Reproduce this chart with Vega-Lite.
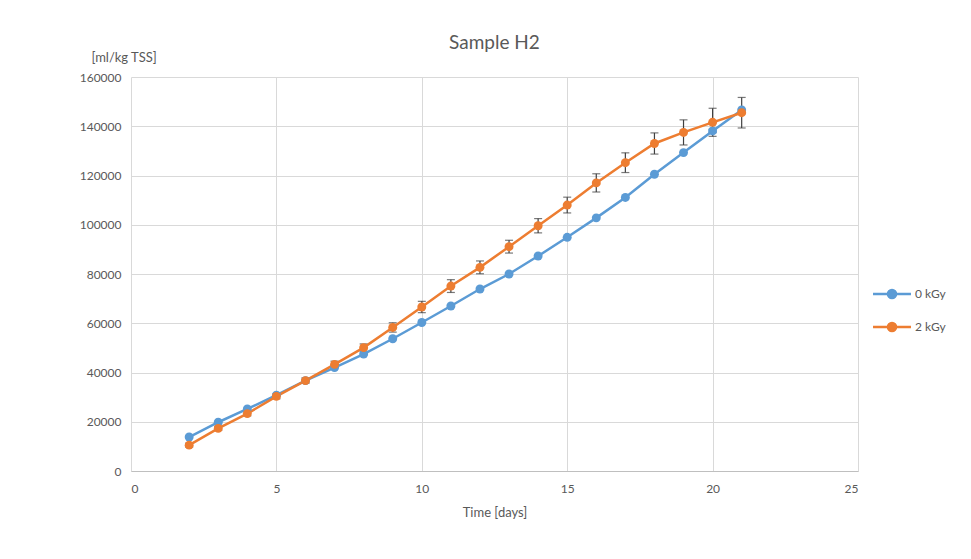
{
  "$schema": "https://vega.github.io/schema/vega-lite/v6.json",
  "width": 727,
  "height": 394,
  "autosize": {"type": "none"},
  "padding": {"left": 131, "top": 77, "right": 113, "bottom": 88},
  "background": "white",
  "config": {
    "font": "Lato",
    "view": {"stroke": null},
    "axis": {"labelFont": "Lato", "titleFont": "Lato", "labelColor": "#595959", "titleColor": "#595959", "labelFontSize": 12, "titleFontSize": 13, "titleFontWeight": "normal", "gridColor": "#D9D9D9", "gridWidth": 1, "ticks": false, "domain": false},
    "legend": {"labelFont": "Lato", "labelColor": "#595959", "labelFontSize": 12}
  },
  "title": {"text": "Sample H2", "fontSize": 19, "font": "Lato", "fontWeight": "normal", "color": "#595959", "anchor": "middle", "offset": -2},
  "data": {
    "values": [
      {"day": 2, "series": "0 kGy", "value": 13800, "err": 0},
      {"day": 3, "series": "0 kGy", "value": 19800, "err": 0},
      {"day": 4, "series": "0 kGy", "value": 25200, "err": 0},
      {"day": 5, "series": "0 kGy", "value": 30800, "err": 0},
      {"day": 6, "series": "0 kGy", "value": 36700, "err": 0},
      {"day": 7, "series": "0 kGy", "value": 42000, "err": 0},
      {"day": 8, "series": "0 kGy", "value": 47500, "err": 0},
      {"day": 9, "series": "0 kGy", "value": 53700, "err": 0},
      {"day": 10, "series": "0 kGy", "value": 60300, "err": 0},
      {"day": 11, "series": "0 kGy", "value": 67000, "err": 0},
      {"day": 12, "series": "0 kGy", "value": 73900, "err": 0},
      {"day": 13, "series": "0 kGy", "value": 80000, "err": 0},
      {"day": 14, "series": "0 kGy", "value": 87300, "err": 0},
      {"day": 15, "series": "0 kGy", "value": 94900, "err": 0},
      {"day": 16, "series": "0 kGy", "value": 102800, "err": 0},
      {"day": 17, "series": "0 kGy", "value": 111100, "err": 0},
      {"day": 18, "series": "0 kGy", "value": 120500, "err": 0},
      {"day": 19, "series": "0 kGy", "value": 129300, "err": 0},
      {"day": 20, "series": "0 kGy", "value": 138100, "err": 700},
      {"day": 21, "series": "0 kGy", "value": 146600, "err": 0},
      {"day": 2, "series": "2 kGy", "value": 10500, "err": 800},
      {"day": 3, "series": "2 kGy", "value": 17300, "err": 800},
      {"day": 4, "series": "2 kGy", "value": 23300, "err": 900},
      {"day": 5, "series": "2 kGy", "value": 30300, "err": 1000},
      {"day": 6, "series": "2 kGy", "value": 36700, "err": 1100},
      {"day": 7, "series": "2 kGy", "value": 43300, "err": 1300},
      {"day": 8, "series": "2 kGy", "value": 50100, "err": 1500},
      {"day": 9, "series": "2 kGy", "value": 58300, "err": 1900},
      {"day": 10, "series": "2 kGy", "value": 66600, "err": 2300},
      {"day": 11, "series": "2 kGy", "value": 75100, "err": 2600},
      {"day": 12, "series": "2 kGy", "value": 82700, "err": 2600},
      {"day": 13, "series": "2 kGy", "value": 91100, "err": 2600},
      {"day": 14, "series": "2 kGy", "value": 99600, "err": 2900},
      {"day": 15, "series": "2 kGy", "value": 108000, "err": 3200},
      {"day": 16, "series": "2 kGy", "value": 117000, "err": 3700},
      {"day": 17, "series": "2 kGy", "value": 125200, "err": 4000},
      {"day": 18, "series": "2 kGy", "value": 133000, "err": 4300},
      {"day": 19, "series": "2 kGy", "value": 137500, "err": 5100},
      {"day": 20, "series": "2 kGy", "value": 141600, "err": 5700},
      {"day": 21, "series": "2 kGy", "value": 145500, "err": 6200}
    ]
  },
  "encoding": {
    "x": {"field": "day", "type": "quantitative", "scale": {"domain": [0, 25], "nice": false}, "axis": {"values": [0, 5, 10, 15, 20, 25], "title": "Time [days]", "labelPadding": 12, "titlePadding": 12, "domain": true, "domainColor": "#BFBFBF", "domainWidth": 1}},
    "y": {"field": "value", "type": "quantitative", "scale": {"domain": [0, 160000], "nice": false}, "axis": {"values": [0, 20000, 40000, 60000, 80000, 100000, 120000, 140000, 160000], "format": "d", "labelPadding": 10, "title": "[ml/kg TSS]", "titleAngle": 0, "titleAlign": "left", "titleBaseline": "middle", "titleX": -40, "titleY": -20, "titleFontSize": 13}}
  },
  "layer": [
    {
      "transform": [{"filter": "datum.err > 0"}],
      "mark": {"type": "errorbar", "ticks": {"color": "#404040", "size": 8, "thickness": 1.2}, "rule": {"color": "#404040", "strokeWidth": 1.2}},
      "encoding": {"yError": {"field": "err"}}
    },
    {
      "mark": {"type": "line", "strokeWidth": 2.5},
      "encoding": {
        "color": {"field": "series", "type": "nominal", "scale": {"domain": ["0 kGy", "2 kGy"], "range": ["#5B9BD5", "#ED7D31"]}, "legend": {"title": null, "orient": "none", "legendX": 747, "legendY": 203, "symbolType": "M-1.5,0L1.5,0M-0.32,0A0.32,0.32 0 1,0 0.32,0A0.32,0.32 0 1,0 -0.32,0Z", "symbolSize": 640, "symbolStrokeWidth": 2.5, "rowPadding": 9, "labelOffset": 9}}
      }
    },
    {
      "mark": {"type": "point", "filled": true, "opacity": 1, "size": 80},
      "encoding": {
        "color": {"field": "series", "type": "nominal", "scale": {"domain": ["0 kGy", "2 kGy"], "range": ["#5B9BD5", "#ED7D31"]}, "legend": {"title": null, "orient": "none", "legendX": 747, "legendY": 203, "symbolType": "M-1.5,0L1.5,0M-0.32,0A0.32,0.32 0 1,0 0.32,0A0.32,0.32 0 1,0 -0.32,0Z", "symbolSize": 640, "symbolStrokeWidth": 2.5, "rowPadding": 9, "labelOffset": 9}}
      }
    }
  ]
}
